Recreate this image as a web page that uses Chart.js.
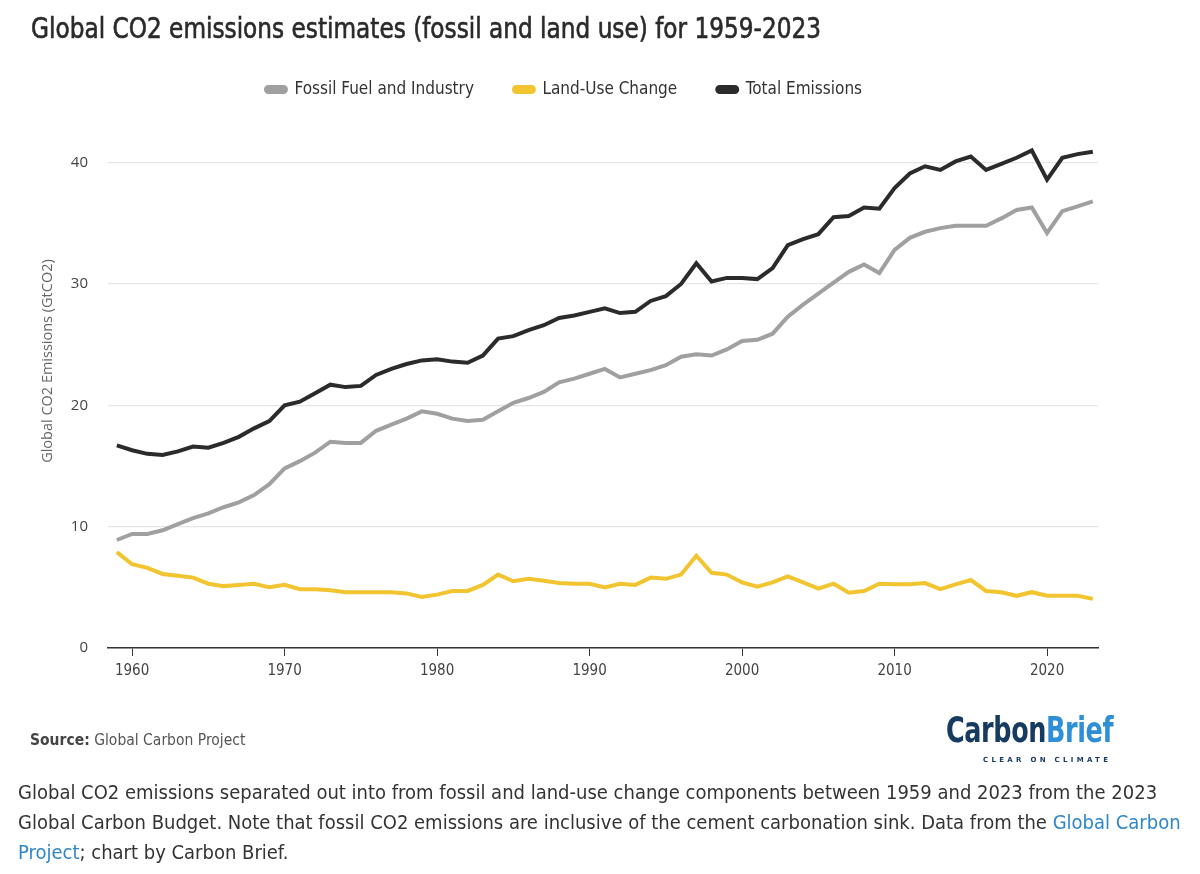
<!DOCTYPE html>
<html>
<head>
<meta charset="utf-8">
<script src="https://cdn.jsdelivr.net/npm/chart.js@4.4.1/dist/chart.umd.min.js"></script>
<style>
  html, body { margin: 0; padding: 0; background: #fff; }
  body { width: 1200px; height: 874px; position: relative; overflow: hidden;
         font-family: "Liberation Sans Narrow", "DejaVu Sans Condensed", sans-serif; }
  #wrap { position: absolute; left: 0; top: 0; width: 1200px; height: 874px; }
  #title { position: absolute; left: 31px; top: 11px; font-size: 29px; color: #2a2a2a; white-space: nowrap;
           -webkit-text-stroke: 0.6px #2a2a2a; transform: scaleX(0.89); transform-origin: 0 0; }
  #source { position: absolute; left: 30px; top: 731px; font-size: 15.5px; color: #555; white-space: nowrap; }
  #source b { color: #444; }
  #logo { position: absolute; left: 946px; top: 713px; width: 170px; height: 60px; }
  #logo .w { font-size: 35px; font-weight: bold; line-height: 35px; white-space: nowrap;
             transform: scaleX(0.81); transform-origin: 0 0; display: inline-block; letter-spacing: -0.5px; }
  #logo .c { color: #173a60; }
  #logo .b { color: #2e8fd6; }
  #logo .t { position: absolute; left: 37px; top: 43px; font-size: 7px; letter-spacing: 3.3px; color: #173a60;
             font-family: "DejaVu Sans", sans-serif; font-weight: bold; white-space: nowrap; }
  #caption { position: absolute; left: 18px; top: 777px; width: 1175px; font-size: 20px; line-height: 30px; color: #333; }
  #caption a { color: #2f86c8; text-decoration: none; }
</style>
</head>
<body>
<div id="wrap"><canvas id="c" width="1200" height="874"></canvas></div>
<div id="title">Global CO2 emissions estimates (fossil and land use) for 1959-2023</div>
<div id="source"><b>Source:</b> Global Carbon Project</div>
<div id="logo"><div class="w"><span class="c">Carbon</span><span class="b">Brief</span></div><div class="t">CLEAR ON CLIMATE</div></div>
<div id="caption">Global CO2 emissions separated out into from fossil and land-use change components between 1959 and 2023 from the 2023 Global Carbon Budget. Note that fossil CO2 emissions are inclusive of the cement carbonation sink. Data from the <a>Global Carbon Project</a>; chart by Carbon Brief.</div>
<script>
const years = [];
for (let y = 1959; y <= 2023; y++) years.push(y);

const fossil = [
  8.9, 9.4, 9.4, 9.7, 10.2, 10.7, 11.1, 11.6, 12.0, 12.6, 13.5,
  14.8, 15.4, 16.1, 17.0, 16.9, 16.9, 17.9, 18.4, 18.9, 19.5,
  19.3, 18.9, 18.7, 18.8, 19.5, 20.2, 20.6, 21.1, 21.9, 22.2,
  22.6, 23.0, 22.3, 22.6, 22.9, 23.3, 24.0, 24.2, 24.1, 24.6,
  25.3, 25.4, 25.9, 27.3, 28.3, 29.2, 30.1, 31.0, 31.6, 30.9,
  32.8, 33.8, 34.3, 34.6, 34.8, 34.8, 34.8, 35.4, 36.1, 36.3,
  34.2, 36.0, 36.4, 36.8
];
const landUse = [
  7.9, 6.9, 6.6, 6.1, 5.95, 5.8, 5.3, 5.1, 5.2, 5.3, 5.0,
  5.2, 4.85, 4.85, 4.75, 4.6, 4.6, 4.6, 4.6, 4.5, 4.2,
  4.4, 4.7, 4.7, 5.2, 6.05, 5.5, 5.7, 5.55, 5.35, 5.3,
  5.3, 5.0, 5.3, 5.2, 5.8, 5.7, 6.05, 7.6, 6.2, 6.05,
  5.4, 5.05, 5.4, 5.9, 5.4, 4.9, 5.3, 4.55, 4.7, 5.3,
  5.25, 5.25, 5.35, 4.85, 5.25, 5.6, 4.7, 4.6, 4.3, 4.6,
  4.3, 4.3, 4.3, 4.05
];
const total = [
  16.7, 16.3, 16.0, 15.9, 16.2, 16.6, 16.5, 16.9, 17.4, 18.1, 18.7,
  20.0, 20.3, 21.0, 21.7, 21.5, 21.6, 22.5, 23.0, 23.4, 23.7,
  23.8, 23.6, 23.5, 24.1, 25.5, 25.7, 26.2, 26.6, 27.2, 27.4,
  27.7, 28.0, 27.6, 27.7, 28.6, 29.0, 30.0, 31.7, 30.2, 30.5,
  30.5, 30.4, 31.3, 33.2, 33.7, 34.1, 35.5, 35.6, 36.3, 36.2,
  37.9, 39.1, 39.7, 39.4, 40.1, 40.5, 39.4, 39.9, 40.4, 41.0,
  38.6, 40.4, 40.7, 40.9
];
const seriesNames = ["Fossil Fuel and Industry", "Land-Use Change", "Total Emissions"];
const seriesColors = ["#a0a0a0", "#f2c430", "#2b2b2b"];
const xTicks = [1960, 1970, 1980, 1990, 2000, 2010, 2020];
const yTicks = [0, 10, 20, 30, 40];
const yTitle = "Global CO2 Emissions (GtCO2)";

const narrow = '"Liberation Sans Narrow", "DejaVu Sans Condensed", sans-serif';
const sans = '"Open Sans", "Noto Sans", sans-serif';

function pts(arr) { return arr.map((v, i) => ({ x: years[i], y: v })); }
const allSeries = [fossil, landUse, total];

new Chart(document.getElementById('c'), {
  type: 'line',
  data: {
    datasets: allSeries.map((arr, i) => ({
      label: seriesNames[i],
      data: pts(arr),
      borderColor: seriesColors[i],
      backgroundColor: seriesColors[i],
      borderWidth: 4,
      pointRadius: 0,
      tension: 0,
      borderJoinStyle: 'miter'
    }))
  },
  options: {
    responsive: false,
    animation: false,
    devicePixelRatio: 1,
    layout: { padding: { top: 41, right: 102, left: 30, bottom: 0 } },
    plugins: {
      legend: {
        position: 'top',
        align: 'center',
        labels: {
          boxWidth: 20, boxHeight: 5, useBorderRadius: true, borderRadius: 2.5,
          padding: 40, color: '#333',
          font: { family: narrow, size: 17 }
        }
      },
      tooltip: { enabled: false }
    },
    scales: {
      x: {
        type: 'linear',
        min: 1958.42, max: 2023.34,
        afterBuildTicks: s => { s.ticks = xTicks.map(v => ({ value: v })); },
        afterFit: s => { s.height = 226; },
        grid: { drawOnChartArea: false, drawTicks: true, tickLength: 8, tickColor: '#333', tickWidth: 1 },
        border: { color: '#333', width: 1.5 },
        ticks: { color: '#444', font: { family: narrow, size: 15 }, padding: 6, maxRotation: 0,
                 callback: v => String(v) }
      },
      y: {
        min: 0, max: 44.5,
        afterBuildTicks: s => { s.ticks = yTicks.map(v => ({ value: v })); },
        afterFit: s => { s.width = 78; },
        grid: { color: '#e6e6e6', lineWidth: 1.2, drawTicks: false },
        border: { display: false },
        ticks: { color: '#444', font: { family: sans, size: 15 }, padding: 20 },
        title: { display: true, text: ' '.repeat(9) + yTitle, color: '#666', font: { family: sans, size: 14.5 },
                 padding: { top: 9, bottom: 0 } }
      }
    }
  }
});
</script>
</body>
</html>
